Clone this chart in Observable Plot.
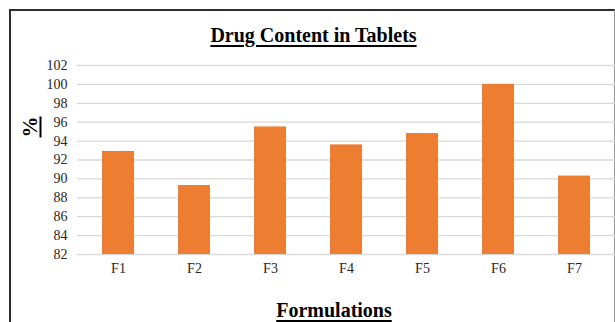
<!DOCTYPE html>
<html>
<head>
<meta charset="utf-8">
<script src="https://cdn.jsdelivr.net/npm/d3@7"></script>
<script src="https://cdn.jsdelivr.net/npm/@observablehq/plot@0.6"></script>
<style>
  html, body { margin: 0; padding: 0; background: #fff; overflow: hidden; }
  #wrap { position: relative; width: 615px; height: 322px; overflow: hidden; font-family: "Liberation Serif", "Times New Roman", serif; }
  #frame { position: absolute; left: 9px; top: 9px; width: 603px; height: 400px;
           border-left: 2px solid #2e2e2e; border-top: 2px solid #2e2e2e; border-right: 1px solid #9a9a9a; }
  .lbl { position: absolute; font-weight: bold; color: #000; white-space: nowrap; line-height: 1;
         text-decoration: underline; text-decoration-thickness: 2px; text-underline-offset: 3px; }
  #title { font-size: 20px; left: 0; width: 627px; text-align: center; top: 25px; }
  #xtitle { font-size: 20px; left: 0; width: 668px; text-align: center; top: 300px; }
  #ytitle { font-size: 21px; left: 30px; top: 127px; transform: translate(-50%, -50%) rotate(-90deg); }
  #chart { position: absolute; left: 0; top: 0; }
</style>
</head>
<body>
<div id="wrap">
  <div id="frame"></div>
  <div id="chart"></div>
  <div class="lbl" id="title">Drug Content in Tablets</div>
  <div class="lbl" id="ytitle">%</div>
  <div class="lbl" id="xtitle">Formulations</div>
</div>
<script>
// Drug content (%) per tablet formulation
const formulations = ["F1", "F2", "F3", "F4", "F5", "F6", "F7"];
const drugContent = [92.9, 89.3, 95.5, 93.6, 94.8, 100.0, 90.3];
const yTicks = [82, 84, 86, 88, 90, 92, 94, 96, 98, 100, 102];

const rows = formulations.map((f, i) => ({ formulation: f, content: drugContent[i] }));
const base = yTicks[0];

const chart = Plot.plot({
  width: 615,
  height: 322,
  marginLeft: 77,
  marginRight: 0,
  marginTop: 65,
  marginBottom: 68,
  style: { fontFamily: "'Liberation Serif', 'Times New Roman', serif", fontSize: "14px", color: "#262626", background: "transparent" },
  x: { domain: formulations, paddingInner: 0.58, paddingOuter: 0.29, label: null },
  y: { domain: [yTicks[0], yTicks[yTicks.length - 1]], label: null },
  marks: [
    Plot.ruleY(yTicks, { stroke: "#d9d9d9", strokeWidth: 1.3 }),
    Plot.barY(rows, { x: "formulation", y1: base, y2: "content", fill: "#ED7D31" }),
    Plot.axisY(yTicks, { tickSize: 0, tickPadding: 10, label: null, fontSize: 14, fill: "#262626" }),
    Plot.axisX({ tickSize: 0, tickPadding: 9, label: null, fontSize: 14, fill: "#262626" })
  ]
});
document.getElementById("chart").appendChild(chart);
</script>
</body>
</html>
